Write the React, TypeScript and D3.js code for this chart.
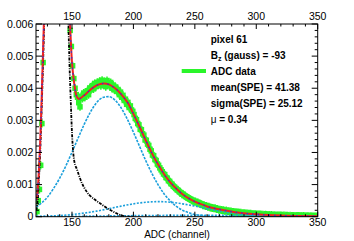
import React from 'react';
import * as d3 from 'd3';

// axis ticks
const xTicks = [150, 200, 250, 300, 350];
const yTicks = [0, 0.001, 0.002, 0.003, 0.004, 0.005, 0.006];

// ADC histogram, 1 channel bins starting at 121.5 (null = above the frame)
const binStart = 121.5;
const counts: (number | null)[] = [
  0.00016, 0.0005, 0.00085, 0.0016, 0.0029, 0.0048,
  null, null, null, null, null, null, null, null, null, null,
  null, null, null, null, null, null, null, null, null, null, null,
  0.0058, 0.0053, 0.0047, 0.0043, 0.004, 0.0038, 0.00372, 0.00355, 0.00342, 0.00375,
  0.00368, 0.00385, 0.00372, 0.00388, 0.00392, 0.0038, 0.00401, 0.00395, 0.00408, 0.00398,
  0.00415, 0.00405, 0.00418, 0.0041, 0.00422, 0.00408, 0.00425, 0.00412, 0.0042, 0.00405,
  0.00424, 0.00415, 0.00408, 0.00418, 0.004, 0.0041, 0.00395, 0.00404, 0.0039, 0.00396,
  0.0038, 0.00388, 0.00372, 0.00378, 0.00362, 0.00366, 0.0035, 0.00356, 0.0034, 0.00345,
  0.00332, 0.00328, 0.00318, 0.00306, 0.00302, 0.0029, 0.00286, 0.00272, 0.00271, 0.00258,
  0.00254, 0.00239, 0.00238, 0.00226, 0.00222, 0.0021, 0.00205, 0.00192, 0.0019, 0.00178,
  0.00175, 0.00164, 0.0016, 0.00152, 0.00146, 0.0014, 0.00133, 0.00131, 0.00122, 0.0012,
  0.00112, 0.0011, 0.00103, 0.00101, 0.00095, 0.00092, 0.00088, 0.00084, 0.00082, 0.00077,
  0.00075, 0.0007, 0.0007, 0.00066, 0.00063, 0.00061, 0.00058, 0.00056, 0.00054, 0.00051,
  0.0005, 0.00047, 0.00047, 0.00044, 0.00044, 0.00041, 0.0004, 0.00039, 0.00036, 0.00036,
  0.00033, 0.00033, 0.00031, 0.00031, 0.00029, 0.00028, 0.00027, 0.00026, 0.00026, 0.00024,
  0.00024, 0.00022, 0.00022, 0.00021, 0.0002, 0.0002, 0.00018, 0.00019, 0.00017, 0.00017,
  0.00016, 0.00016, 0.00015, 0.00015, 0.00014, 0.00014, 0.00013, 0.00013, 0.00012, 0.00012,
  0.00011, 0.00011, 0.00011, 0.0001, 0.0001, 0.000095, 0.00009, 0.00009, 0.000085, 0.00008,
  0.00008, 0.000075, 0.00007, 0.00007, 0.000065, 0.00007, 0.00006, 0.00006, 0.000055, 0.00006,
  0.00005, 0.00005, 0.00005, 0.000045, 0.00005, 0.00004, 0.000045, 0.00004, 0.00004, 0.000035,
  0.00004, 0.000035, 0.000035, 0.00003, 0.000035, 0.00003, 0.00003, 0.00003, 0.000025, 0.00003,
  0.000025, 0.000025, 0.000025, 0.00002, 0.000025, 0.00002, 0.00002, 0.00002, 0.00002, 0.000015,
  0.00002, 0.000015, 0.000015, 0.000015, 0.000015, 0.00001, 0.000015, 0.00001, 0.00001, 0.00001,
  0.00001, 0.00001,
];

// total fit
const totAdc = [121, 122, 123, 124, 125, 126, 127, 128, 130, 137, 144, 146, 147, 148, 149, 150, 151, 152, 153, 154, 155, 156, 158, 160, 164, 168, 172, 176, 180, 184, 188, 192, 196, 200, 205, 210, 215, 220, 225, 230, 235, 240, 245, 250, 255, 260, 265, 270, 275, 280, 285, 290, 295, 300, 310, 320, 330, 340, 350];
const totVal = [0.0005, 0.0008, 0.0014, 0.0022, 0.0033, 0.0046, 0.0059, 0.0075, 0.015, 0.05, 0.015, 0.0095, 0.0078, 0.0064, 0.0055, 0.0048, 0.0044, 0.0041, 0.00385, 0.00373, 0.00368, 0.00367, 0.00372, 0.00378, 0.00392, 0.00404, 0.00412, 0.00415, 0.00412, 0.00403, 0.0039, 0.00372, 0.00351, 0.0032, 0.0028, 0.00238, 0.00198, 0.00163, 0.00132, 0.00107, 0.00087, 0.0007, 0.00057, 0.00047, 0.00039, 0.00032, 0.00027, 0.00023, 0.00019, 0.00016, 0.00013, 0.00011, 0.00009, 0.000075, 0.00005, 0.000035, 0.000025, 0.000018, 0.000012];

// pedestal
const pedAdc = [121, 122, 123, 124, 125, 126, 127, 128, 130, 137, 144, 146, 147, 148, 149, 150, 151, 152, 154, 156, 158, 160, 164, 168, 172, 176, 180, 184, 188, 192, 196, 200];
const pedVal = [0.0002, 0.0005, 0.0011, 0.0019, 0.003, 0.0042, 0.0055, 0.007, 0.014, 0.05, 0.014, 0.0082, 0.0062, 0.0047, 0.0036, 0.0026, 0.002, 0.0017, 0.00148, 0.00125, 0.00105, 0.0009, 0.00068, 0.00055, 0.00044, 0.00033, 0.00023, 0.00015, 0.00007, 0.00002, 0, 0];

// 1, 2 and 3 photoelectron components
const speAdc = [121, 125, 130, 135, 140, 145, 150, 155, 160, 165, 170, 175, 180, 185, 190, 195, 200, 205, 210, 215, 220, 225, 230, 235, 240, 245, 250, 255, 260, 270, 280, 350];
const speVal = [0.0003, 0.00042, 0.00061, 0.00088, 0.0012, 0.00158, 0.00201, 0.00245, 0.00288, 0.00326, 0.00355, 0.00371, 0.00374, 0.00363, 0.00339, 0.00304, 0.00263, 0.00219, 0.00175, 0.00135, 0.001, 0.00071, 0.00049, 0.00032, 0.0002, 0.000125, 0.00007, 0.00004, 0.00002, 0.000004, 0, 0];
const pe2Adc = [121, 130, 140, 150, 160, 170, 180, 190, 200, 210, 220, 230, 240, 250, 260, 270, 280, 290, 300, 310, 320, 335, 350];
const pe2Val = [0.00001, 0.00002, 0.000037, 0.000067, 0.000113, 0.000174, 0.000249, 0.000329, 0.0004, 0.00045, 0.00047, 0.00045, 0.0004, 0.00033, 0.00025, 0.000174, 0.000113, 0.000067, 0.000037, 0.000019, 0.00001, 0.000003, 0.000001];
const pe3Adc = [121, 150, 180, 210, 240, 261, 280, 310, 350];
const pe3Val = [0.000003, 0.000012, 0.000024, 0.000036, 0.000042, 0.000043, 0.000039, 0.000027, 0.000013];

const font = 'Liberation Sans, Arial, Helvetica, sans-serif';

export default function App() {
  const width = 354, height = 241;
  const left = 36, right = 317.7, top = 24, bottom = 216.7;

  const x = d3.scaleLinear().domain([120.7, 350]).range([left, right]);
  const y = d3.scaleLinear().domain([0, 0.006]).range([bottom, top]);

  const makeLine = (xs: number[], ys: number[]) =>
    d3.line<number>()
      .x((d, i) => x(xs[i]))
      .y((d) => y(d))
      .curve(d3.curveMonotoneX)(ys) || '';

  const xMinor = d3.range(130, 351, 10);
  const yMinor = d3.range(0, 0.00601, 0.0002);

  const points = counts
    .map((c, i) => ({ adc: binStart + i, c }))
    .filter((p) => p.c !== null) as { adc: number; c: number }[];

  const blue = '#1a9fdb';
  const green = '#2af52a';

  return (
    <svg width={width} height={height} style={{ position: 'absolute', left: 0, top: 0, background: '#fff' }}>
      <defs>
        <clipPath id="plot-area">
          <rect x={left} y={top} width={right - left} height={bottom - top} />
        </clipPath>
      </defs>
      <rect x={0} y={0} width={width} height={height} fill="#fff" />

      <g clipPath="url(#plot-area)">
        {points.map((p, i) => (
          <g key={i}>
            <line x1={x(p.adc)} x2={x(p.adc)} y1={y(p.c) - 4} y2={y(p.c) + 4} stroke={green} strokeWidth={1.5} />
            <rect x={x(p.adc) - 2.75} y={y(p.c) - 2.75} width={5.5} height={5.5} fill={green} />
          </g>
        ))}
        <path d={makeLine(pe3Adc, pe3Val)} fill="none" stroke={blue} strokeWidth={1.6} strokeDasharray="2,1.5" />
        <path d={makeLine(pe2Adc, pe2Val)} fill="none" stroke={blue} strokeWidth={1.6} strokeDasharray="2,1.5" />
        <path d={makeLine(speAdc, speVal)} fill="none" stroke={blue} strokeWidth={1.6} strokeDasharray="2.5,1.2" />
        <path d={makeLine(pedAdc, pedVal)} fill="none" stroke="#000" strokeWidth={1.8} strokeDasharray="3,1.2,1,1.2" />
        <path d={makeLine(totAdc, totVal)} fill="none" stroke="#f02020" strokeWidth={2} />
        <path d={makeLine(totAdc, totVal)} fill="none" stroke="#2b3bd6" strokeWidth={1.3} strokeDasharray="1.5,4" />
      </g>

      {/* frame */}
      <rect x={left} y={top} width={right - left} height={bottom - top} fill="none" stroke="#000" strokeWidth={1} />

      {/* x ticks bottom and top */}
      {xMinor.map((t) => {
        const major = t % 50 === 0;
        const len = major ? 5 : 2.5;
        return (
          <g key={'x' + t} stroke="#000" strokeWidth={1}>
            <line x1={x(t)} x2={x(t)} y1={bottom} y2={bottom - len} />
            <line x1={x(t)} x2={x(t)} y1={top} y2={top + len} />
          </g>
        );
      })}
      {/* y ticks left and right */}
      {yMinor.map((t, i) => {
        const major = i % 5 === 0;
        const len = major ? 6 : 3;
        return (
          <g key={'y' + i} stroke="#000" strokeWidth={1}>
            <line x1={left} x2={left + len} y1={y(t)} y2={y(t)} />
            <line x1={right} x2={right - len} y1={y(t)} y2={y(t)} />
          </g>
        );
      })}

      <g fontFamily={font} fontSize={10.5} fill="#000">
        {xTicks.map((t) => (
          <text key={'bx' + t} x={x(t)} y={226} textAnchor="middle">{t}</text>
        ))}
        {xTicks.map((t) => (
          <text key={'tx' + t} x={x(t)} y={19.5} textAnchor="middle">{t}</text>
        ))}
        {yTicks.map((t) => (
          <text key={'ly' + t} x={33.3} y={y(t) + 3.7} textAnchor="end">
            {t === 0 ? '0' : d3.format('.3f')(t)}
          </text>
        ))}
        <text x={177} y={238} textAnchor="middle" fontSize={10}>ADC (channel)</text>
      </g>

      {/* legend */}
      <g fontFamily={font} fontSize={10} fontWeight="bold" fill="#000">
        <text x={210.7} y={43}>pixel 61</text>
        <text x={210.7} y={59}>B<tspan fontSize={7} dy={2}>z</tspan><tspan dy={-2}> (gauss) = -93</tspan></text>
        <line x1={181.7} x2={206} y1={71} y2={71} stroke={green} strokeWidth={4} />
        <text x={210.7} y={75}>ADC data</text>
        <text x={210.7} y={91}>mean(SPE) = 41.38</text>
        <text x={210.7} y={107}>sigma(SPE) = 25.12</text>
        <text x={210.7} y={123}><tspan fontWeight="normal">μ</tspan> = 0.34</text>
      </g>
    </svg>
  );
}
